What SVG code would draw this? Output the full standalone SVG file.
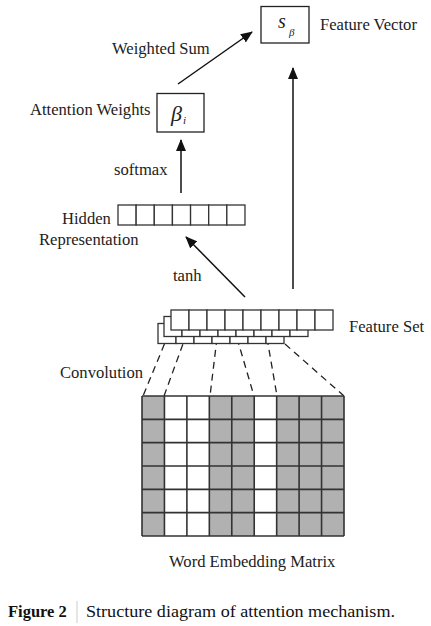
<svg xmlns="http://www.w3.org/2000/svg" width="431" height="626" viewBox="0 0 431 626">
<style>
.lbl{font-family:"Liberation Serif","Times New Roman",serif;font-size:16.6px;fill:#222}
.box{fill:#fff;stroke:#222;stroke-width:1.3}
.cell{fill:#fff;stroke:#333;stroke-width:1.3}
.arr{stroke:#111;stroke-width:1.5;fill:none;marker-end:url(#ah)}
.dash{stroke:#222;stroke-width:1.3;stroke-dasharray:7 5;fill:none}
.grid{stroke:#333;stroke-width:1.6;fill:none}
.gray{fill:#b2b1b1}
.math{font-family:"Liberation Serif","Times New Roman",serif;font-style:italic;fill:#222}
</style>
<defs>
<marker id="ah" markerWidth="12" markerHeight="10" refX="11" refY="5" orient="auto" markerUnits="userSpaceOnUse">
<path d="M0,0 L12,5 L0,10 Z" fill="#111"/>
</marker>
</defs>
<rect width="431" height="626" fill="#fff"/>

<g id="connectors">
<line class="arr" x1="178" y1="84" x2="252" y2="32"/>
<line class="arr" x1="181" y1="193" x2="181" y2="140"/>
<line class="arr" x1="293" y1="289" x2="293" y2="68"/>
<line class="arr" x1="245" y1="297" x2="186" y2="237"/>
<line class="dash" x1="169" y1="333" x2="143" y2="396"/>
<line class="dash" x1="187" y1="333" x2="164" y2="396"/>
<line class="dash" x1="217" y1="338" x2="210" y2="396"/>
<line class="dash" x1="237" y1="338" x2="254" y2="396"/>
<line class="dash" x1="267" y1="338" x2="277" y2="396"/>
<line class="dash" x1="285" y1="344" x2="344" y2="396"/>
</g>

<g id="feature-vector">
<rect class="box" x="261" y="6.5" width="48" height="36.5"/>
<text class="math" x="278" y="28" font-size="20">s</text>
<text class="math" x="289" y="36" font-size="11">β</text>
<text class="lbl" x="320" y="30">Feature Vector</text>
</g>

<g id="weighted-sum-label">
<text class="lbl" x="112" y="54">Weighted Sum</text>
</g>

<g id="attention-weights">
<rect class="box" x="157" y="93.5" width="47" height="38.5"/>
<text class="math" x="171" y="121" font-size="22">β</text>
<text class="math" x="183" y="124" font-size="11">i</text>
<text class="lbl" x="30" y="115">Attention Weights</text>
</g>

<g id="softmax-label">
<text class="lbl" x="114" y="175">softmax</text>
</g>

<g id="hidden-representation">
<rect class="cell" x="118" y="205" width="18.14" height="20"/>
<rect class="cell" x="136.14" y="205" width="18.14" height="20"/>
<rect class="cell" x="154.28" y="205" width="18.14" height="20"/>
<rect class="cell" x="172.42" y="205" width="18.14" height="20"/>
<rect class="cell" x="190.56" y="205" width="18.14" height="20"/>
<rect class="cell" x="208.7" y="205" width="18.14" height="20"/>
<rect class="cell" x="226.84" y="205" width="18.14" height="20"/>
<text class="lbl" x="62" y="224">Hidden</text>
<text class="lbl" x="39" y="245">Representation</text>
</g>

<g id="tanh-label">
<text class="lbl" x="173" y="281">tanh</text>
</g>

<g id="feature-set">
<g>
<rect class="cell" x="158" y="323.5" width="18" height="20"/>
<rect class="cell" x="176" y="323.5" width="18" height="20"/>
<rect class="cell" x="194" y="323.5" width="18" height="20"/>
<rect class="cell" x="212" y="323.5" width="18" height="20"/>
<rect class="cell" x="230" y="323.5" width="18" height="20"/>
<rect class="cell" x="248" y="323.5" width="18" height="20"/>
<rect class="cell" x="266" y="323.5" width="18" height="20"/>
</g>
<g>
<rect class="cell" x="164" y="316.5" width="18" height="20"/>
<rect class="cell" x="182" y="316.5" width="18" height="20"/>
<rect class="cell" x="200" y="316.5" width="18" height="20"/>
<rect class="cell" x="218" y="316.5" width="18" height="20"/>
<rect class="cell" x="236" y="316.5" width="18" height="20"/>
<rect class="cell" x="254" y="316.5" width="18" height="20"/>
<rect class="cell" x="272" y="316.5" width="18" height="20"/>
<rect class="cell" x="290" y="316.5" width="18" height="20"/>
</g>
<g>
<rect class="cell" x="171" y="310" width="18" height="20"/>
<rect class="cell" x="189" y="310" width="18" height="20"/>
<rect class="cell" x="207" y="310" width="18" height="20"/>
<rect class="cell" x="225" y="310" width="18" height="20"/>
<rect class="cell" x="243" y="310" width="18" height="20"/>
<rect class="cell" x="261" y="310" width="18" height="20"/>
<rect class="cell" x="279" y="310" width="18" height="20"/>
<rect class="cell" x="297" y="310" width="18" height="20"/>
<rect class="cell" x="315" y="310" width="18" height="20"/>
</g>
<text class="lbl" x="349" y="332">Feature Set</text>
</g>

<g id="convolution-label">
<text class="lbl" x="60" y="378">Convolution</text>
</g>

<g id="word-embedding-matrix">
<rect class="gray" x="142" y="396" width="22.44" height="140"/>
<rect class="gray" x="209.33" y="396" width="44.89" height="140"/>
<rect class="gray" x="276.67" y="396" width="67.33" height="140"/>
<path class="grid" d="M142,396V536M164.44,396V536M186.89,396V536M209.33,396V536M231.78,396V536M254.22,396V536M276.67,396V536M299.11,396V536M321.56,396V536M344,396V536M142,396H344M142,419.33H344M142,442.67H344M142,466H344M142,489.33H344M142,512.67H344M142,536H344"/>
<text class="lbl" x="169" y="567">Word Embedding Matrix</text>
</g>

<g id="caption">
<text x="8" y="617" font-family="Liberation Serif, Times New Roman, serif" font-size="16.5" font-weight="bold" fill="#111">Figure 2</text>
<line x1="77" y1="601" x2="77" y2="623" stroke="#ccc" stroke-width="1"/>
<text x="86" y="617" font-family="Liberation Serif, Times New Roman, serif" font-size="16.5" fill="#111" textLength="309" lengthAdjust="spacingAndGlyphs">Structure diagram of attention mechanism.</text>
</g>
</svg>
